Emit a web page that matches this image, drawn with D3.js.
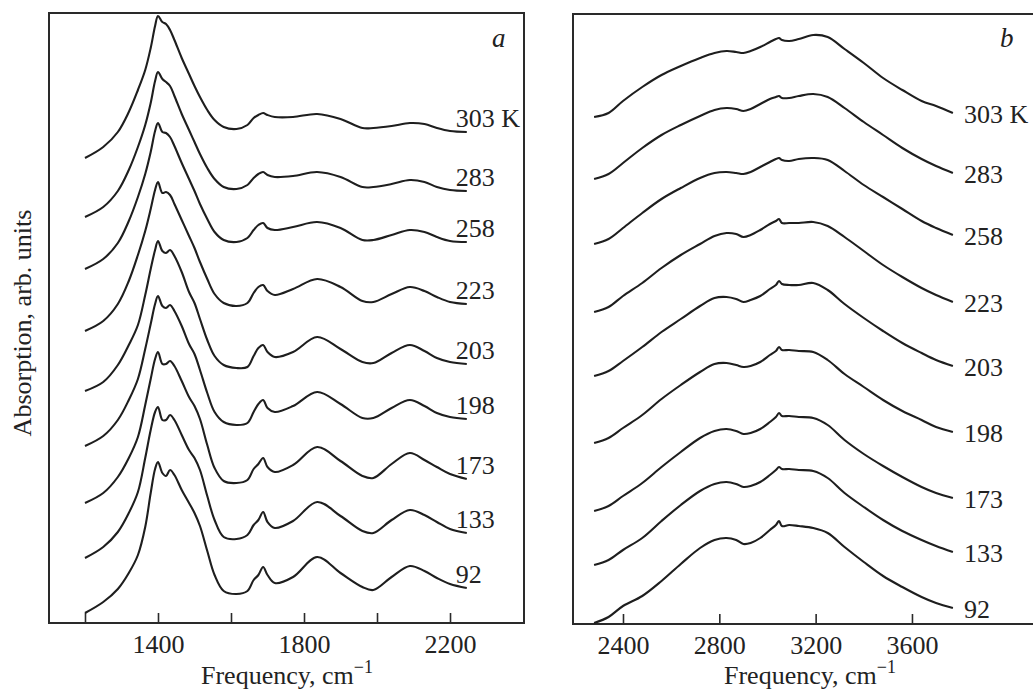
<!DOCTYPE html>
<html lang="en">
<head>
<meta charset="utf-8">
<title>Absorption spectra, panels a and b</title>
<script src="https://d3js.org/d3.v7.min.js"></script>
<style>
  body { margin: 0; background: #fff; }
  svg text { font-family: "Liberation Serif", "DejaVu Serif", serif; fill: #222; }
  .curve { fill: none; stroke: #1e1e1e; stroke-width: 2.1; stroke-linejoin: round; }
  .frame { fill: none; stroke: #2a2a2a; stroke-width: 2; }
  .tick line { stroke: #2a2a2a; stroke-width: 1.6; }
</style>
</head>
<body>
<svg id="chart" width="1033" height="692"></svg>
<script>
// temperatures (labels), same order top to bottom in both panels
var temps = ["303 K", "283", "258", "223", "203", "198", "173", "133", "92"];

// ---- panel a : 1200 - 2250 cm-1 ----
var aFreq = [1200, 1250, 1290, 1320, 1345, 1365, 1380, 1392, 1400, 1412, 1422, 1433, 1445, 1465, 1485, 1500, 1515, 1535, 1555, 1580,
             1615, 1645, 1662, 1675, 1688, 1700, 1720, 1770, 1836, 1900, 1960, 1990, 2040, 2090, 2130, 2164, 2200, 2246];
var aOffset = [46.5, 40.6, 35.4, 29.2, 23.2, 17.7, 12.0, 6.5, 1.0];
var a303 = [0, 1.1, 2.6, 4.6, 6.8, 8.8, 11.0, 13.2, 14.2, 13.6, 13.4, 12.8, 11.8, 10.0, 8.4, 7.2, 6.1, 4.8, 3.8, 3.1, 2.9, 3.3, 4.0, 4.3, 4.5, 4.3, 4.1, 4.1, 4.4, 3.9, 3.0, 3.0, 3.2, 3.5, 3.4, 3.0, 2.7, 2.6];
var a283 = [0, 1.0, 2.6, 4.7, 7.0, 9.2, 11.4, 13.6, 14.5, 13.8, 13.5, 13.1, 12.1, 10.3, 8.7, 7.5, 6.3, 4.9, 3.8, 3.0, 2.8, 3.2, 3.9, 4.3, 4.5, 4.2, 4.0, 4.1, 4.5, 4.0, 3.0, 3.0, 3.3, 3.7, 3.5, 3.0, 2.7, 2.6];
var a258 = [0, 1.0, 2.6, 4.8, 7.2, 9.5, 11.7, 13.8, 14.6, 13.7, 13.6, 13.2, 12.3, 10.6, 9.0, 7.8, 6.5, 5.0, 3.7, 2.9, 2.7, 3.1, 3.9, 4.4, 4.6, 4.1, 3.9, 4.2, 4.7, 4.1, 2.9, 2.9, 3.4, 3.9, 3.7, 3.2, 2.8, 2.7];
var a223 = [0, 1.0, 2.7, 5.0, 7.6, 10.0, 12.2, 14.1, 14.9, 13.8, 13.9, 13.6, 12.7, 11.1, 9.5, 8.3, 6.9, 5.2, 3.7, 2.8, 2.5, 2.8, 3.8, 4.4, 4.6, 4.0, 3.6, 4.2, 5.2, 4.4, 3.0, 2.9, 3.7, 4.4, 4.0, 3.4, 2.9, 2.7];
var a203 = [0, 0.9, 2.6, 4.6, 6.6, 9.6, 12.2, 14.1, 15.0, 14.0, 13.8, 14.1, 13.5, 11.9, 9.9, 8.8, 7.2, 5.1, 3.5, 2.6, 2.3, 2.4, 3.5, 4.3, 4.6, 3.9, 3.4, 3.9, 5.4, 4.2, 2.9, 2.8, 3.8, 4.6, 4.0, 3.3, 2.9, 2.7];
var a198 = [0, 1.0, 2.6, 4.6, 6.7, 9.7, 12.2, 14.2, 15.0, 14.0, 13.8, 14.1, 13.5, 12.0, 10.2, 9.2, 7.6, 5.3, 3.4, 2.4, 2.1, 2.3, 3.4, 4.2, 4.6, 3.8, 3.4, 4.0, 5.4, 4.2, 2.8, 2.8, 3.8, 4.6, 4.0, 3.3, 2.9, 2.7];
var a173 = [0, 1.0, 2.6, 4.5, 6.6, 9.8, 12.4, 14.4, 15.1, 13.9, 13.9, 14.2, 13.7, 12.2, 10.6, 9.7, 8.4, 5.8, 3.5, 2.2, 2.0, 2.3, 3.4, 3.9, 4.5, 3.6, 3.1, 3.8, 5.6, 4.2, 2.7, 2.5, 3.9, 5.0, 4.3, 3.6, 2.9, 2.4];
var a133 = [0, 1.1, 2.6, 4.5, 6.6, 10.0, 12.8, 14.6, 15.1, 13.8, 13.8, 14.3, 13.8, 12.3, 10.8, 10.0, 8.8, 6.2, 3.8, 2.1, 1.9, 2.3, 3.3, 3.8, 4.6, 3.6, 3.0, 3.7, 5.6, 4.2, 2.7, 2.5, 3.8, 4.8, 4.3, 3.6, 2.9, 2.5];
var a92  = [0, 1.1, 2.4, 4.0, 5.8, 8.6, 12.0, 14.4, 15.1, 14.0, 13.7, 14.3, 13.8, 12.3, 11.0, 10.0, 8.7, 6.2, 3.8, 2.2, 1.9, 2.2, 3.3, 3.8, 4.6, 3.8, 3.0, 3.6, 5.6, 4.0, 2.6, 2.3, 3.6, 4.7, 4.2, 3.5, 2.9, 2.5];
var aTicks = [1200, 1400, 1600, 1800, 2000, 2200];
var aTickLabels = [1400, 1800, 2200];

// ---- panel b : 2280 - 3770 cm-1 ----
var bFreq = [2280, 2340, 2400, 2480, 2560, 2640, 2720, 2780, 2830, 2870, 2900, 2930, 2970, 3010, 3035, 3048, 3060, 3090,
             3130, 3190, 3250, 3320, 3400, 3480, 3560, 3640, 3700, 3770];
var bOffset = [50.7, 44.5, 38.0, 31.2, 24.8, 18.1, 11.3, 5.9, 0.1];
var b303 = [0, 0.4, 1.6, 3.0, 4.2, 5.1, 5.9, 6.4, 6.6, 6.5, 6.4, 6.6, 7.0, 7.5, 7.8, 7.9, 7.7, 7.6, 7.8, 8.2, 8.0, 6.8, 5.4, 3.9, 2.7, 1.6, 1.1, 0.4];
var b283 = [0, 0.5, 1.6, 3.1, 4.4, 5.4, 6.3, 6.9, 7.1, 7.0, 6.8, 7.0, 7.5, 8.0, 8.2, 8.3, 8.1, 8.1, 8.3, 8.5, 8.2, 7.1, 5.7, 4.4, 3.1, 2.0, 1.3, 0.6];
var b258 = [0, 0.5, 1.6, 3.1, 4.5, 5.6, 6.6, 7.1, 7.2, 7.1, 7.0, 7.2, 7.7, 8.2, 8.5, 8.6, 8.4, 8.3, 8.5, 8.6, 8.4, 7.3, 5.9, 4.7, 3.5, 2.3, 1.6, 0.9];
var b223 = [0, 0.5, 1.6, 2.9, 4.4, 5.7, 6.8, 7.6, 7.9, 7.8, 7.5, 7.7, 8.2, 8.8, 9.1, 9.3, 8.9, 8.9, 8.9, 9.0, 8.6, 7.5, 6.1, 4.7, 3.5, 2.4, 1.7, 1.0];
var b203 = [0, 0.5, 1.5, 2.9, 4.4, 5.7, 7.0, 7.8, 7.9, 7.7, 7.4, 7.6, 8.0, 8.7, 9.1, 9.5, 9.2, 9.1, 9.1, 9.3, 8.6, 7.2, 5.8, 4.5, 3.3, 2.3, 1.6, 1.0];
var b198 = [0, 0.5, 1.5, 2.8, 4.4, 5.8, 7.1, 7.9, 8.0, 7.8, 7.6, 7.7, 8.1, 8.8, 9.2, 9.6, 9.3, 9.3, 9.2, 9.1, 8.3, 6.9, 5.6, 4.3, 3.2, 2.3, 1.6, 1.1];
var b173 = [0, 0.5, 1.5, 2.8, 4.4, 5.9, 7.3, 8.0, 8.2, 8.0, 7.7, 7.8, 8.2, 8.9, 9.4, 9.8, 9.5, 9.5, 9.4, 9.3, 8.6, 7.1, 5.7, 4.5, 3.4, 2.4, 1.8, 1.3];
var b133 = [0, 0.5, 1.5, 2.7, 4.4, 6.0, 7.4, 8.1, 8.3, 8.1, 7.8, 7.9, 8.3, 9.0, 9.5, 9.8, 9.6, 9.6, 9.5, 9.4, 8.7, 7.2, 5.8, 4.5, 3.4, 2.5, 1.9, 1.3];
var b92  = [0, 0.6, 1.7, 2.7, 4.2, 5.9, 7.5, 8.3, 8.5, 8.3, 7.9, 8.0, 8.5, 9.3, 9.8, 10.2, 9.7, 9.8, 9.7, 9.5, 9.0, 7.6, 6.1, 4.7, 3.6, 2.6, 2.0, 1.5];
var bTicks = [2400, 2800, 3200, 3600];
var bTickLabels = [2400, 2800, 3200, 3600];

var aSeries = [a303, a283, a258, a223, a203, a198, a173, a133, a92];
var bSeries = [b303, b283, b258, b223, b203, b198, b173, b133, b92];

var svg = d3.select("#chart");

function drawPanel(opts) {
  var x = d3.scaleLinear().domain(opts.xDomain).range([opts.left, opts.right]);
  var y = d3.scaleLinear().domain([0, 61]).range([opts.bottom, opts.top]);
  var g = svg.append("g");

  // ticks pointing inward from the bottom edge
  var axis = d3.axisBottom(x)
    .tickValues(opts.ticks)
    .tickSizeInner(-10)
    .tickSizeOuter(0)
    .tickPadding(12)
    .tickFormat(function(d) { return opts.tickLabels.indexOf(d) >= 0 ? d : ""; });
  var ax = g.append("g").attr("transform", "translate(0," + opts.bottom + ")").call(axis);
  ax.select(".domain").remove();
  ax.selectAll("text").attr("font-size", 26).attr("fill", "#222")
    .style("font-family", "'Liberation Serif', serif");

  g.append("rect").attr("class", "frame")
    .attr("x", opts.left).attr("y", opts.top)
    .attr("width", opts.right - opts.left).attr("height", opts.bottom - opts.top);

  var line = d3.line()
    .x(function(d) { return x(d[0]); })
    .y(function(d) { return y(d[1]); })
    .curve(d3.curveCatmullRom.alpha(0.5));

  opts.series.forEach(function(vals, i) {
    var pts = vals.map(function(v, j) { return [opts.freq[j], v + opts.offset[i]]; });
    g.append("path").attr("class", "curve").attr("d", line(pts));
    var last = pts[pts.length - 1];
    g.append("text")
      .attr("x", x(last[0]) + opts.labelDx)
      .attr("y", y(last[1]) + opts.labelDy)
      .attr("font-size", 26)
      .text(temps[i]);
  });

  g.append("text")
    .attr("x", opts.letterX).attr("y", 47)
    .attr("font-size", 27).attr("font-style", "italic")
    .text(opts.letter);

  g.append("text")
    .attr("x", opts.titleX).attr("y", 684)
    .attr("text-anchor", "middle").attr("font-size", 26)
    .html("Frequency, cm<tspan dy='-11' font-size='18'>\u22121</tspan>");
}

drawPanel({
  xDomain: [1101.4, 2402.7], left: 49, right: 524, top: 13, bottom: 623,
  freq: aFreq, series: aSeries, offset: aOffset,
  ticks: aTicks, tickLabels: aTickLabels,
  labelDx: -11, labelDy: -5, letter: "a", letterX: 492, titleX: 287
});

drawPanel({
  xDomain: [2192.4, 4156.6], left: 573, right: 1046, top: 14, bottom: 624,
  freq: bFreq, series: bSeries, offset: bOffset,
  ticks: bTicks, tickLabels: bTickLabels,
  labelDx: 11, labelDy: 10, letter: "b", letterX: 1000, titleX: 810
});

svg.append("text")
  .attr("transform", "translate(31,323) rotate(-90)")
  .attr("text-anchor", "middle")
  .attr("font-size", 26)
  .text("Absorption, arb. units");
</script>
</body>
</html>
